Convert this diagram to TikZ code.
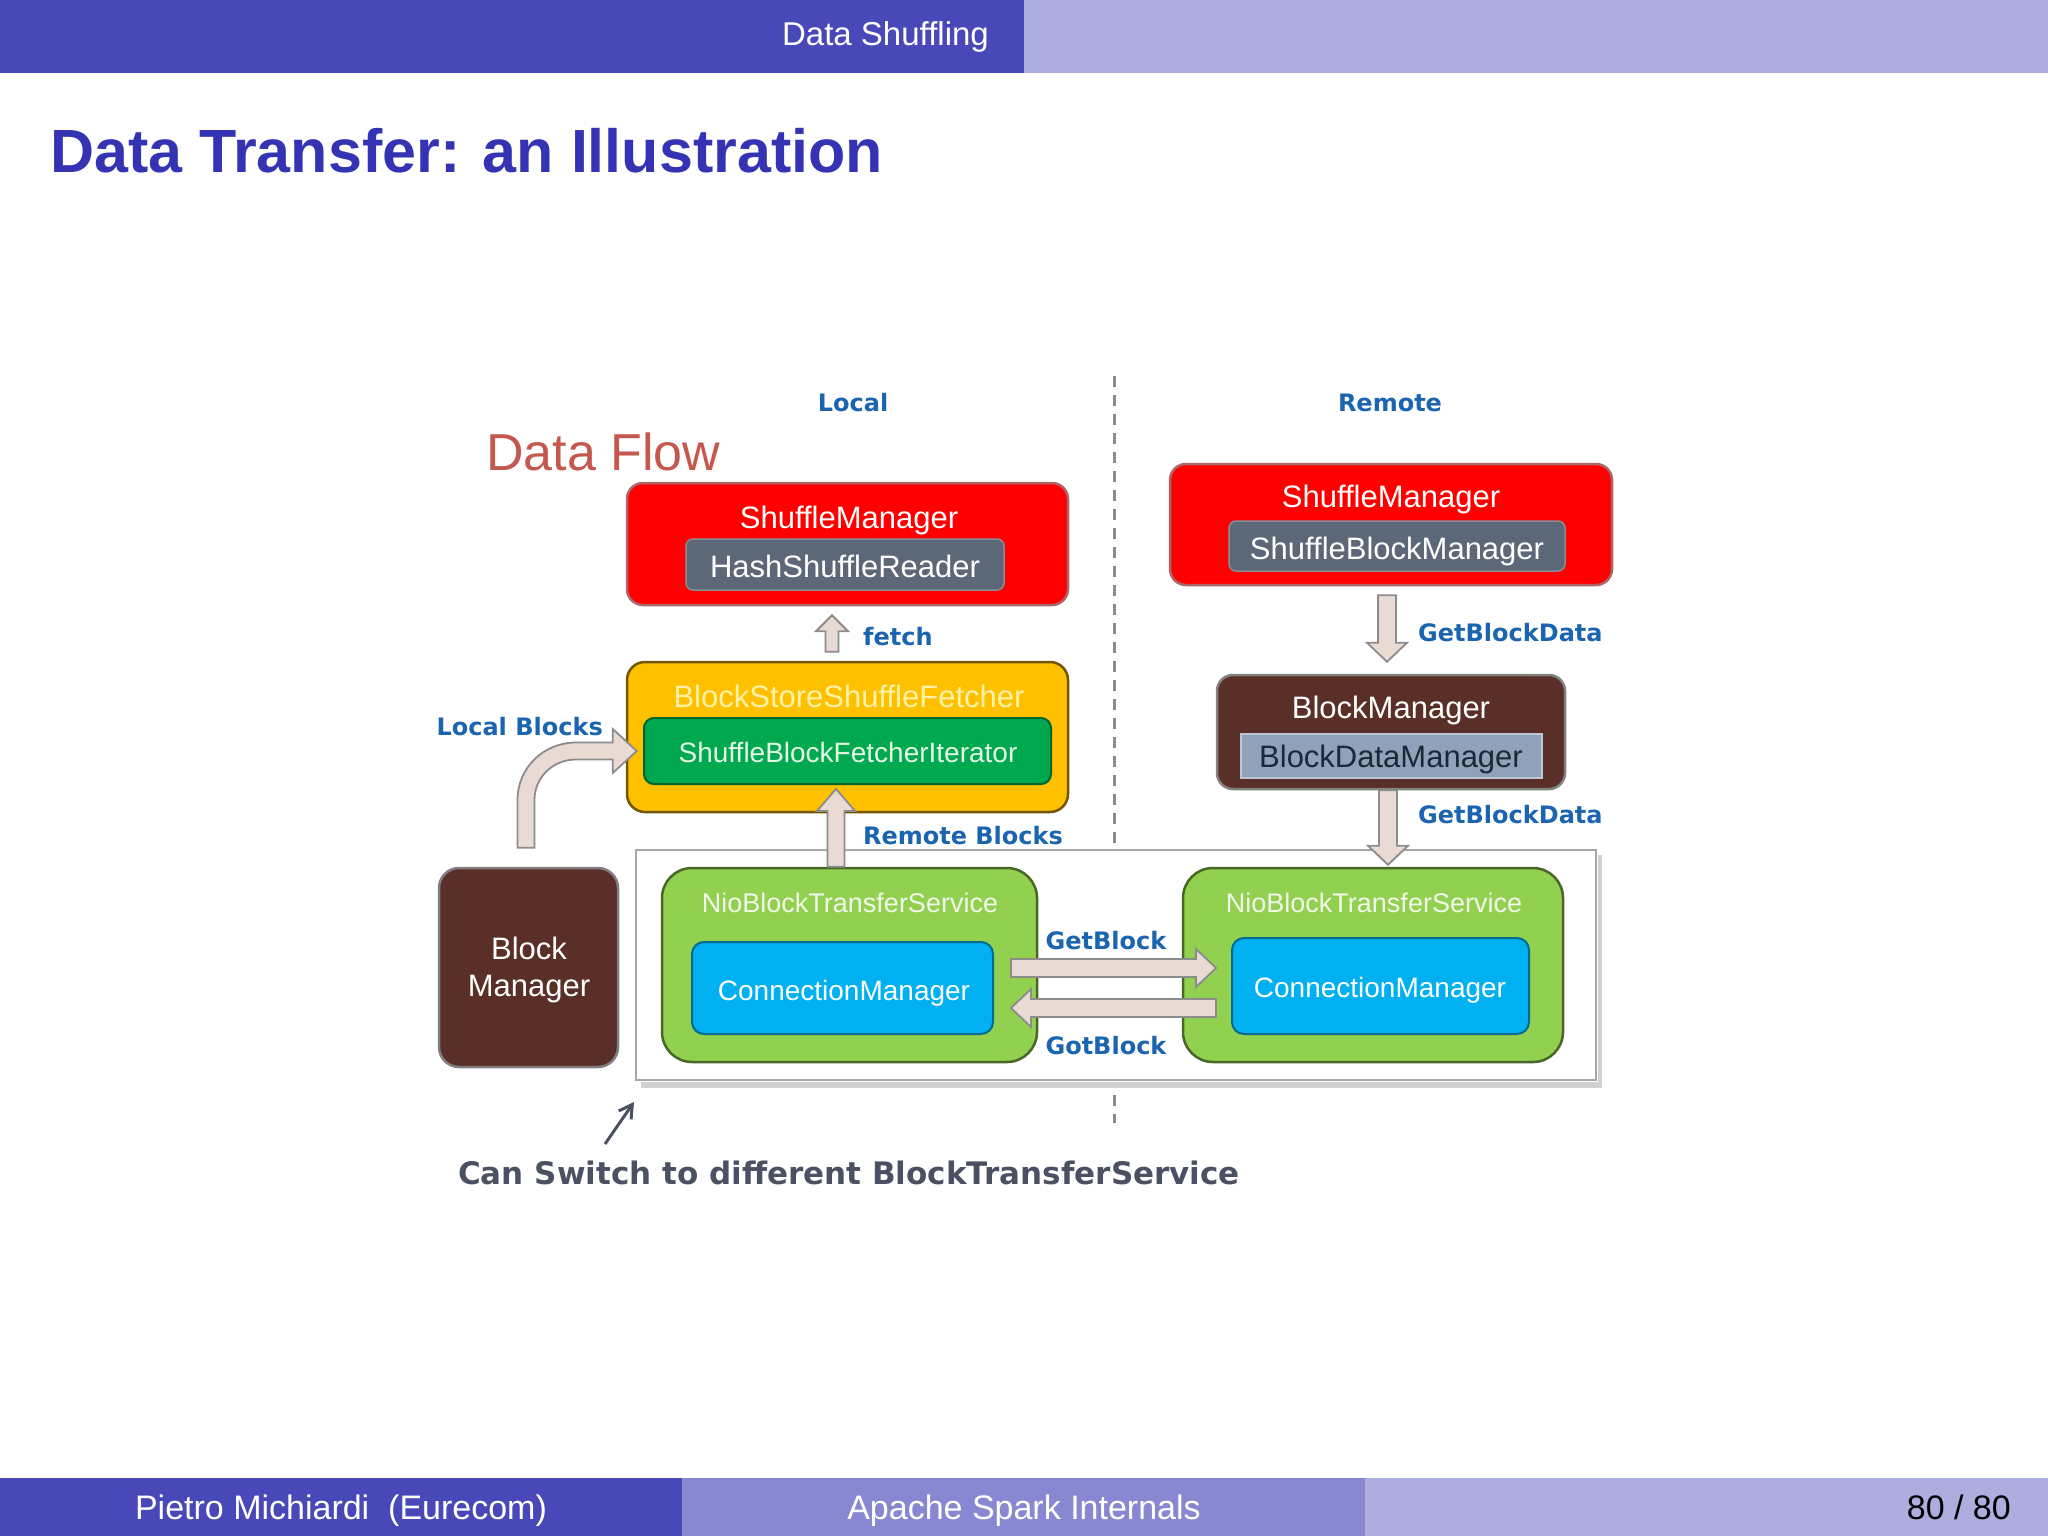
\documentclass[tikz,border=0pt]{standalone}
\usepackage{fontspec}
\setmainfont{Liberation Sans}
\newfontfamily\labfont{DejaVu Sans}
\usetikzlibrary{calc,arrows.meta}
\definecolor{hdark}{HTML}{4848B8}
\definecolor{hlight}{HTML}{ADADE0}
\definecolor{hmid}{HTML}{8888D2}
\definecolor{titleblue}{HTML}{3333B3}
\definecolor{labblue}{HTML}{1B64B0}
\definecolor{flowred}{HTML}{C4584F}
\definecolor{smred}{HTML}{FF0000}
\definecolor{slate}{HTML}{5C6877}
\definecolor{amber}{HTML}{FFC000}
\definecolor{dgreen}{HTML}{00A84F}
\definecolor{mylime}{HTML}{92D050}
\definecolor{cyanb}{HTML}{00B0F0}
\definecolor{mybrown}{HTML}{5A2F28}
\definecolor{steel}{HTML}{8FA2B9}
\definecolor{arrfill}{HTML}{E9DAD4}
\definecolor{arredge}{HTML}{8C8C8C}
\definecolor{notegrey}{HTML}{4B5162}
\definecolor{paleyellow}{HTML}{FFF3A8}
\definecolor{palegreen}{HTML}{E4F8E4}
\definecolor{palelime}{HTML}{F2F8EA}
\definecolor{darkslate}{HTML}{1C2838}
\newcommand{\varr}[5]{%
  \draw[barrow] ($(#2)+(-#3,0)$) -- ($(#1)+(-#3,#5)$) -- ($(#1)+(-#4,#5)$) -- (#1)
    -- ($(#1)+(#4,#5)$) -- ($(#1)+(#3,#5)$) -- ($(#2)+(#3,0)$) -- cycle;}
\newcommand{\harr}[5]{%
  \draw[barrow] ($(#2)+(0,-#3)$) -- ($(#1)+(#5,-#3)$) -- ($(#1)+(#5,-#4)$) -- (#1)
    -- ($(#1)+(#5,#4)$) -- ($(#1)+(#5,#3)$) -- ($(#2)+(0,#3)$) -- cycle;}
\begin{document}
\begin{tikzpicture}[x=1pt,y=-1pt,
  redbox/.style={fill=smred, draw=black!55!red!60, line width=2.5pt, rounded corners=16pt, inner sep=0pt},
  slatebox/.style={fill=slate, draw=slate!75!white, line width=1.5pt, rounded corners=7pt, inner sep=0pt},
  amberbox/.style={fill=amber, draw=amber!45!black, line width=2.5pt, rounded corners=18pt, inner sep=0pt},
  greenbox/.style={fill=dgreen, draw=dgreen!60!black, line width=2pt, rounded corners=10pt, inner sep=0pt},
  limebox/.style={fill=mylime, draw=mylime!50!black, line width=2.5pt, rounded corners=30pt, inner sep=0pt},
  cyanbox/.style={fill=cyanb, draw=cyanb!60!black, line width=2pt, rounded corners=12pt, inner sep=0pt},
  brownbox/.style={fill=mybrown, draw=black!50, line width=2.5pt, rounded corners=20pt, inner sep=0pt},
  steelbox/.style={fill=steel, draw=steel!60!white, line width=1.5pt, inner sep=0pt},
  tray/.style={fill=white, draw=black!35, line width=2pt, inner sep=0pt},
  barrow/.style={fill=arrfill, draw=arredge, line width=1.8pt, line join=miter},
  dashline/.style={draw=black!45, line width=3pt, dash pattern=on 11pt off 8pt},
  tx/.style={inner sep=0pt, anchor=base, text=white, font=\fontsize{31}{37}\selectfont},
  txs/.style={inner sep=0pt, anchor=base, text=white, font=\fontsize{28}{34}\selectfont},
  lab/.style={inner sep=0pt, anchor=base, text=labblue, font=\labfont\bfseries\fontsize{24}{29}\selectfont},
  bar/.style={inner sep=0pt, anchor=base, text=white, font=\fontsize{34}{40}\selectfont}]
\useasboundingbox (0,0) rectangle (2048,1536);
% header
\fill[hdark] (0,0) rectangle (1024,73);
\fill[hlight] (1024,0) rectangle (2048,73);
\node[bar, anchor=base east, font=\fontsize{33}{40}\selectfont] (sec) at (989,46) {Data Shuffling};
\node[inner sep=0pt, anchor=base west, text=titleblue, font=\bfseries\fontsize{61}{72}\selectfont] (title) at (50,172) {Data Transfer: an Illustration};
% footer
\fill[hdark] (0,1478) rectangle (682,1536);
\fill[hmid] (682,1478) rectangle (1365,1536);
\fill[hlight] (1365,1478) rectangle (2048,1536);
\node[bar] (auth) at (341,1519) {Pietro Michiardi~~(Eurecom)};
\node[bar] (talk) at (1024,1519) {Apache Spark Internals};
\node[bar, anchor=base east, text=black] (page) at (2011,1519) {80 / 80};
% tray
\node[tray, minimum width=960pt, minimum height=230pt] (tbox) at (1116,965) {};
\fill[black!18] ($(tbox.south west)+(6,1)$) rectangle ($(tbox.south east)+(5,7)$);
\fill[black!18] ($(tbox.north east)+(1,6)$) rectangle ($(tbox.south east)+(5,7)$);
% dashed divider
\coordinate (dtop) at (1114,376);
\draw[dashline] (dtop) -- (dtop |- tbox.north);
\draw[dashline] ($(tbox.south)+(-2,14)$) -- ($(tbox.south)+(-2,42)$);
% labels
\node[lab] (local) at (853,411) {Local};
\node[lab] (remote) at (1390,411) {Remote};
\node[inner sep=0pt, anchor=base west, text=flowred, font=\fontsize{52}{60}\selectfont] (flow) at (486,470) {Data Flow};
% local side
\node[redbox, minimum width=441pt, minimum height=122pt] (lsm) at (847.5,544) {};
\node[tx] (lsmt) at (849,528) {ShuffleManager};
\node[slatebox, minimum width=318pt, minimum height=51pt] (lhsr) at (845,564.5) {};
\node[tx] (lhsrt) at (845,577) {HashShuffleReader};
\node[amberbox, minimum width=441pt, minimum height=150pt] (bsf) at (847.5,737) {};
\node[tx, text=paleyellow] (bsft) at (849,707) {BlockStoreShuffleFetcher};
\node[greenbox, minimum width=407pt, minimum height=66pt] (sbfi) at (847.5,751) {};
\node[txs, text=palegreen] (sbfit) at (848,762) {ShuffleBlockFetcherIterator};
\node[brownbox, minimum width=179pt, minimum height=199pt] (lbm) at (528.5,967.5) {};
\node[inner sep=0pt, text=white, align=center, font=\fontsize{31}{37}\selectfont] (lbmt) at (529,970) {Block\\Manager};
\node[limebox, minimum width=375pt, minimum height=194pt] (lnio) at (849.5,965) {};
\node[txs, text=palelime, font=\fontsize{27}{33}\selectfont] (lniot) at (850,912) {NioBlockTransferService};
\node[cyanbox, minimum width=301pt, minimum height=92pt] (lcm) at (842.5,988) {};
\node[txs] (lcmt) at (844,1000) {ConnectionManager};
% remote side
\node[redbox, minimum width=442pt, minimum height=121pt] (rsm) at (1391,524.5) {};
\node[tx] (rsmt) at (1391,507) {ShuffleManager};
\node[slatebox, minimum width=336pt, minimum height=50pt] (rsbm) at (1397,546) {};
\node[tx] (rsbmt) at (1397,559) {ShuffleBlockManager};
\node[brownbox, rounded corners=16pt, minimum width=348pt, minimum height=114pt] (rbm) at (1391,732) {};
\node[tx] (rbmt) at (1391,718) {BlockManager};
\node[steelbox, minimum width=301pt, minimum height=44pt] (rbdm) at (1391.5,756) {};
\node[tx, text=darkslate] (rbdmt) at (1391,767) {BlockDataManager};
\node[limebox, minimum width=380pt, minimum height=194pt] (rnio) at (1373,965) {};
\node[txs, text=palelime, font=\fontsize{27}{33}\selectfont] (rniot) at (1374,912) {NioBlockTransferService};
\node[cyanbox, minimum width=297pt, minimum height=96pt] (rcm) at (1380.5,986) {};
\node[txs] (rcmt) at (1380,997) {ConnectionManager};
% block arrows
\coordinate (fetchT) at ($(lsm.south)+(-15.5,9)$);
\coordinate (fetchB) at ($(bsf.north)+(-15.5,-9)$);
\varr{fetchT}{fetchB}{6.5}{16}{16}
\node[lab, anchor=base west] (fetch) at (863,645) {fetch};
\coordinate (rbT) at ($(sbfi.south)+(-11.5,4)$);
\coordinate (rbB) at ($(lnio.north)+(-13.5,0)$);
\varr{rbT}{rbB}{8.5}{19}{22}
\node[lab] (rblab) at (963,844) {Remote Blocks};
\coordinate (lbS) at ($(lbm.north)+(-2.5,-19)$);
\coordinate (lbT) at ($(bsf.west)+(11,14)$);
\coordinate (lbC) at (lbS |- lbT);
\draw[barrow] ($(lbS)+(-8.5,0)$) -- ($(lbC)+(-8.5,49)$)
  .. controls ($(lbC)+(-8.5,16.7)$) and ($(lbC)+(17.7,-8.5)$) .. ($(lbC)+(50,-8.5)$)
  -- ($(lbT)+(-24,-8.5)$) -- ($(lbT)+(-24,-22)$) -- (lbT) -- ($(lbT)+(-24,22)$) -- ($(lbT)+(-24,8.5)$)
  -- ($(lbC)+(50,8.5)$) .. controls ($(lbC)+(27.1,8.5)$) and ($(lbC)+(8.5,26.1)$) .. ($(lbC)+(8.5,49)$)
  -- ($(lbS)+(8.5,0)$) -- cycle;
\node[lab, anchor=base east] (lblab) at (603,735) {Local Blocks};
\coordinate (gbT) at ($(rcm.west)+(-15,-18)$);
\coordinate (gbB) at ($(lcm.east)+(17,-20)$);
\harr{gbT}{gbB}{9}{19}{-20}
\node[lab] (gblab) at (1106,949) {GetBlock};
\coordinate (gtT) at ($(lcm.east)+(17,20)$);
\coordinate (gtB) at ($(rcm.west)+(-15,22)$);
\harr{gtT}{gtB}{9}{19}{20}
\node[lab] (gtlab) at (1106,1054) {GotBlock};
\coordinate (gd1T) at ($(rbm.north)+(-4,-12)$);
\coordinate (gd1B) at ($(rsm.south)+(-4,9)$);
\varr{gd1T}{gd1B}{9}{20}{-19}
\node[lab, anchor=base west] (gd1lab) at (1418,641) {GetBlockData};
\coordinate (gd2T) at ($(rnio.north)+(15,-2)$);
\coordinate (gd2B) at ($(rbm.south)+(-3,0)$);
\varr{gd2T}{gd2B}{9}{20}{-19}
\node[lab, anchor=base west] (gd2lab) at (1418,823) {GetBlockData};
% note
\node[lab, text=notegrey, font=\labfont\bfseries\fontsize{31}{37}\selectfont] (note) at (849,1184) {Can Switch to different BlockTransferService};
\coordinate (noteTail) at (605,1144);
\draw[notegrey, line width=3pt, -{Straight Barb[length=13pt,width=15pt]}] (noteTail) -- ($(tbox.south west)+(-1,21)$);
\end{tikzpicture}
\end{document}
